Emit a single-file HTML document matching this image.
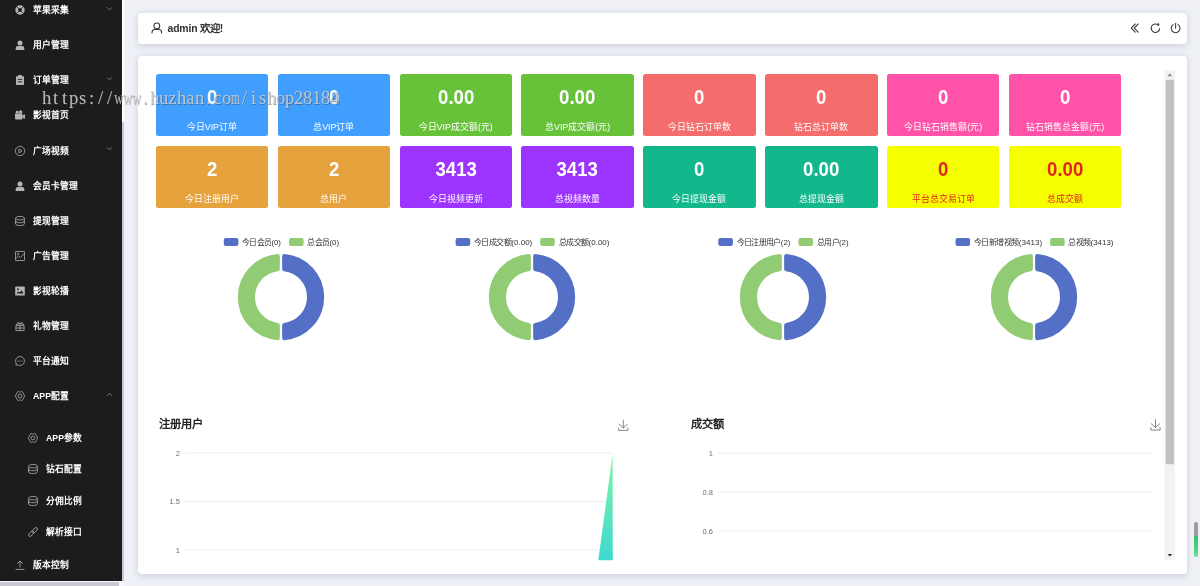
<!DOCTYPE html>
<html lang="zh-CN">
<head>
<meta charset="utf-8">
<title>admin</title>
<style>
*{box-sizing:border-box;margin:0;padding:0}
html,body{width:1200px;height:586px;overflow:hidden}
body{position:relative;background:#eff1f7;font-family:"Liberation Sans",sans-serif;color:#303133}
.abs{position:absolute}
#side,#head,#main,#wm{will-change:transform}
/* ---------- sidebar ---------- */
#side{position:absolute;left:0;top:0;width:122px;height:581px;background:#1c1c1c;overflow:hidden}
#sideTrack{position:absolute;left:122px;top:0;width:2.4px;height:122px;background:#fdfdfe}
#sideThumb{position:absolute;left:122px;top:122px;width:2.4px;height:459px;background:#c6c6d4}
#sideBottom{position:absolute;left:0;top:581px;width:124.4px;height:5px;background:#f7f7fa}
#sideBottom div{position:absolute;left:0;top:1.4px;width:118.5px;height:3.6px;background:#c9c9d4}
.mi{position:absolute;left:0;width:122px;height:20px;line-height:20px;font-size:8.75px;font-weight:bold;color:#fff;white-space:nowrap}
.mi .t{position:absolute;left:33px;top:0}
.mi.sub .t{left:46px}
.mi svg.ic{position:absolute;left:15px;top:5px;width:10px;height:10px;overflow:visible}
.mi.sub svg.ic{left:28px}
.mi svg.ch{position:absolute;left:105.5px;top:4.7px;width:7px;height:7px;overflow:visible}
/* ---------- header ---------- */
#head{position:absolute;left:138px;top:13px;width:1049px;height:30.7px;background:#fff;border-radius:4px;box-shadow:0 1.3px 7.5px rgba(60,66,110,.2)}
#head .hello{position:absolute;left:29.5px;top:7.5px;height:16px;line-height:16px;font-size:10.4px;font-weight:bold;color:#303133;white-space:nowrap;letter-spacing:-.15px}
/* ---------- main card ---------- */
#main{position:absolute;left:138px;top:56px;width:1049px;height:517.6px;background:#fff;border-radius:4px;box-shadow:0 1.3px 7.5px rgba(60,66,110,.2)}
.tile{position:absolute;width:112.4px;height:62px;border-radius:2.5px;color:#fff;text-align:center;overflow:hidden}
.tile b{position:absolute;left:0;width:100%;top:11px;height:24px;line-height:24px;font-size:20px;font-weight:bold;transform:scaleX(.93)}
.tile span{position:absolute;left:-20px;right:-20px;top:45.7px;height:14px;line-height:14px;font-size:8.9px;white-space:nowrap}
.c1{background:#409eff}.c2{background:#67c23a}.c3{background:#f56c6c}.c4{background:#ff52a8}
.c5{background:#e6a23c}.c6{background:#9d33ff}.c7{background:#12b78c}.c8{background:#f6ff00;color:#e0281c}
.ct{position:absolute;height:16px;line-height:16px;font-size:11.25px;font-weight:bold;color:#222;white-space:nowrap}
#wm{position:absolute;left:42px;top:87px;height:22px;line-height:22px;white-space:nowrap;font-family:"Liberation Serif",serif;font-size:18.6px;color:rgba(208,208,208,.86);text-shadow:.7px .7px 0 rgba(70,70,70,.5);z-index:9}
#wm i{display:inline-block;width:9px;text-align:center;font-style:normal}
#wm u{display:inline-block;text-decoration:none;margin:0 -3px}
#rbar{position:absolute;left:1194px;top:521.5px;width:4.2px;height:35.2px;border-radius:2.1px;background:#9b9ba1;overflow:hidden;z-index:9}
#rbar div{position:absolute;left:0;top:14.5px;width:100%;height:22px;background:linear-gradient(#35c267,#4fd67f 70%,#8fe6ad)}
</style>
</head>
<body>

<!-- ================= SIDEBAR ================= -->
<div id="side">
  <div class="mi" style="top:0.0px"><svg class="ic" viewBox="0 0 10 10"><circle cx="5" cy="5" r="4.7" fill="#b4b4b4"/><circle cx="5" cy="5" r="1.9" fill="#1c1c1c"/><path d="M1.7 1.7 L3.7 3.7 M8.3 1.7 L6.3 3.7 M1.7 8.3 L3.7 6.3 M8.3 8.3 L6.3 6.3" stroke="#1c1c1c" stroke-width="0.8"/></svg><span class="t">苹果采集</span><svg class="ch" viewBox="0 0 7 7"><path d="M1 2.3 L3.5 4.8 L6 2.3" fill="none" stroke="#8a8a8a" stroke-width="0.8"/></svg></div>
  <div class="mi" style="top:35.1px"><svg class="ic" viewBox="0 0 10 10"><circle cx="5" cy="2.9" r="2.5" fill="#b4b4b4"/><path d="M0.7 9.9 V8 Q0.7 6 2.8 6 H7.2 Q9.3 6 9.3 8 V9.9 Z" fill="#b4b4b4"/></svg><span class="t">用户管理</span></div>
  <div class="mi" style="top:70.3px"><svg class="ic" viewBox="0 0 10 10"><rect x="1" y="1.2" width="8" height="8.7" rx="0.7" fill="#b4b4b4"/><rect x="3.2" y="0" width="3.6" height="2.2" rx="0.5" fill="#b4b4b4"/><path d="M2.8 4.4 H7.2 M2.8 6.9 H7.2" stroke="#1c1c1c" stroke-width="0.9"/></svg><span class="t">订单管理</span><svg class="ch" viewBox="0 0 7 7"><path d="M1 2.3 L3.5 4.8 L6 2.3" fill="none" stroke="#8a8a8a" stroke-width="0.8"/></svg></div>
  <div class="mi" style="top:105.4px"><svg class="ic" viewBox="0 0 10 10"><rect x="0" y="3.6" width="7.6" height="5.8" rx="0.8" fill="#b4b4b4"/><path d="M7.6 5.6 L10 4.2 V8.9 L7.6 7.5 Z" fill="#b4b4b4"/><circle cx="2.2" cy="2.2" r="1.4" fill="#b4b4b4"/><circle cx="5.6" cy="1.9" r="1.7" fill="#b4b4b4"/></svg><span class="t">影视首页</span></div>
  <div class="mi" style="top:140.5px"><svg class="ic" viewBox="0 0 10 10"><circle cx="5" cy="5" r="4.7" fill="none" stroke="#b4b4b4" stroke-width="0.75"/><path d="M3.9 3 L7 5 L3.9 7 Z" fill="none" stroke="#b4b4b4" stroke-width="0.75" stroke-linejoin="round"/></svg><span class="t">广场视频</span><svg class="ch" viewBox="0 0 7 7"><path d="M1 2.3 L3.5 4.8 L6 2.3" fill="none" stroke="#8a8a8a" stroke-width="0.8"/></svg></div>
  <div class="mi" style="top:175.6px"><svg class="ic" viewBox="0 0 10 10"><circle cx="5" cy="2.9" r="2.5" fill="#b4b4b4"/><path d="M0.7 9.9 V8 Q0.7 6 2.8 6 H7.2 Q9.3 6 9.3 8 V9.9 Z" fill="#b4b4b4"/></svg><span class="t">会员卡管理</span></div>
  <div class="mi" style="top:210.8px"><svg class="ic" viewBox="0 0 10 10"><ellipse cx="5" cy="2.2" rx="4.4" ry="1.8" fill="none" stroke="#b4b4b4" stroke-width="0.75"/><path d="M0.6 2.2 V7.8 C0.6 10.2 9.4 10.2 9.4 7.8 V2.2 M0.6 5 C0.6 7.3 9.4 7.3 9.4 5 M0.6 7.6 C0.6 5 0.6 5 0.6 5" fill="none" stroke="#b4b4b4" stroke-width="0.75"/></svg><span class="t">提现管理</span></div>
  <div class="mi" style="top:245.9px"><svg class="ic" viewBox="0 0 10 10"><rect x="0.5" y="0.5" width="9" height="9" rx="0.5" fill="none" stroke="#b4b4b4" stroke-width="0.75"/><path d="M0.8 7.6 L3.6 4.9 L5.4 6.5 L9.2 2.8" fill="none" stroke="#b4b4b4" stroke-width="0.75"/><circle cx="3" cy="2.9" r="0.8" fill="none" stroke="#b4b4b4" stroke-width="0.6"/></svg><span class="t">广告管理</span></div>
  <div class="mi" style="top:281.0px"><svg class="ic" viewBox="0 0 10 10"><rect x="0.2" y="0.5" width="9.6" height="9" rx="0.6" fill="#b4b4b4"/><path d="M1.6 7.6 L3.6 5.3 L4.8 6.5 L6.6 4.2 L8.6 7.6 Z" fill="#1c1c1c"/><circle cx="3" cy="3.2" r="0.9" fill="#1c1c1c"/></svg><span class="t">影视轮播</span></div>
  <div class="mi" style="top:316.1px"><svg class="ic" viewBox="0 0 10 10"><path d="M0.9 4.6 H9.1 V9.6 H0.9 Z M0.9 7 H9.1 M5 4.6 V9.6" fill="none" stroke="#b4b4b4" stroke-width="0.8"/><path d="M1.6 4.4 V3 H8.4 V4.4 M5 3 C3.4 0.2 1.8 1.8 3.2 3 M5 3 C6.6 0.2 8.2 1.8 6.8 3" fill="none" stroke="#b4b4b4" stroke-width="0.8"/></svg><span class="t">礼物管理</span></div>
  <div class="mi" style="top:351.3px"><svg class="ic" viewBox="0 0 10 10"><path d="M5 0.5 A4.5 4.5 0 1 1 2.6 8.8 L0.9 9.3 L1.3 7.6 A4.5 4.5 0 0 1 5 0.5 Z" fill="none" stroke="#b4b4b4" stroke-width="0.75" stroke-linejoin="round"/><circle cx="3" cy="5" r="0.55" fill="#b4b4b4"/><circle cx="5" cy="5" r="0.55" fill="#b4b4b4"/><circle cx="7" cy="5" r="0.55" fill="#b4b4b4"/></svg><span class="t">平台通知</span></div>
  <div class="mi" style="top:386.0px"><svg class="ic" viewBox="0 0 10 10"><path d="M0.35 5 L2.55 0.85 Q2.8 0.5 3.3 0.5 H4 L4.5 1.2 H5.5 L6 0.5 H6.7 Q7.2 0.5 7.45 0.85 L9.65 5 L7.45 9.15 Q7.2 9.5 6.7 9.5 H6 L5.5 8.8 H4.5 L4 9.5 H3.3 Q2.8 9.5 2.55 9.15 Z" fill="none" stroke="#a8a8a8" stroke-width="0.8" stroke-linejoin="round"/><circle cx="5" cy="5" r="1.9" fill="none" stroke="#a8a8a8" stroke-width="0.8"/></svg><span class="t">APP配置</span><svg class="ch" viewBox="0 0 7 7"><path d="M1 4.8 L3.5 2.3 L6 4.8" fill="none" stroke="#8a8a8a" stroke-width="0.8"/></svg></div>
  <div class="mi sub" style="top:428.1px"><svg class="ic" viewBox="0 0 10 10"><path d="M0.35 5 L2.55 0.85 Q2.8 0.5 3.3 0.5 H4 L4.5 1.2 H5.5 L6 0.5 H6.7 Q7.2 0.5 7.45 0.85 L9.65 5 L7.45 9.15 Q7.2 9.5 6.7 9.5 H6 L5.5 8.8 H4.5 L4 9.5 H3.3 Q2.8 9.5 2.55 9.15 Z" fill="none" stroke="#a8a8a8" stroke-width="0.8" stroke-linejoin="round"/><circle cx="5" cy="5" r="1.9" fill="none" stroke="#a8a8a8" stroke-width="0.8"/></svg><span class="t">APP参数</span></div>
  <div class="mi sub" style="top:459.3px"><svg class="ic" viewBox="0 0 10 10"><ellipse cx="5" cy="2.2" rx="4.4" ry="1.8" fill="none" stroke="#b4b4b4" stroke-width="0.75"/><path d="M0.6 2.2 V7.8 C0.6 10.2 9.4 10.2 9.4 7.8 V2.2 M0.6 5 C0.6 7.3 9.4 7.3 9.4 5 M0.6 7.6 C0.6 5 0.6 5 0.6 5" fill="none" stroke="#b4b4b4" stroke-width="0.75"/></svg><span class="t">钻石配置</span></div>
  <div class="mi sub" style="top:490.6px"><svg class="ic" viewBox="0 0 10 10"><ellipse cx="5" cy="2.2" rx="4.4" ry="1.8" fill="none" stroke="#b4b4b4" stroke-width="0.75"/><path d="M0.6 2.2 V7.8 C0.6 10.2 9.4 10.2 9.4 7.8 V2.2 M0.6 5 C0.6 7.3 9.4 7.3 9.4 5 M0.6 7.6 C0.6 5 0.6 5 0.6 5" fill="none" stroke="#b4b4b4" stroke-width="0.75"/></svg><span class="t">分佣比例</span></div>
  <div class="mi sub" style="top:521.8px"><svg class="ic" viewBox="0 0 10 10"><g transform="rotate(-45 5 5)" fill="none" stroke="#b4b4b4" stroke-width="0.8"><rect x="-0.6" y="3.5" width="6.4" height="3" rx="1.5"/><rect x="4.2" y="3.5" width="6.4" height="3" rx="1.5"/></g></svg><span class="t">解析接口</span></div>
  <div class="mi" style="top:554.7px"><svg class="ic" viewBox="0 0 10 10"><path d="M5 7.4 V1 M2.3 3.7 L5 1 L7.7 3.7 M0.6 9.4 H9.4" fill="none" stroke="#b4b4b4" stroke-width="0.8"/></svg><span class="t">版本控制</span></div>
</div>
<div id="sideTrack"></div>
<div id="sideThumb"></div>
<div id="sideBottom"><div></div></div>

<!-- ================= HEADER ================= -->
<div id="head">
  <div class="hello">admin 欢迎!</div>
  <svg class="abs" style="left:0;top:0.5px" width="1049.5" height="30.5" viewBox="0 0 1049.5 30.5">
    <g fill="none" stroke="#3a3a3c" stroke-width="1.05" stroke-linecap="round" stroke-linejoin="round">
      <circle cx="18.8" cy="11.9" r="2.9"/>
      <path d="M14 18.9 V18.4 Q14 15.5 17 15.5 H20.6 Q23.6 15.5 23.6 18.4 V18.9"/>
      <path d="M997.2 10 L993.2 14.05 L997.2 18.1 M1000.2 10 L996.2 14.05 L1000.2 18.1" stroke-width="1.1"/>
      <path d="M1020.6 11.3 A4.25 4.25 0 1 0 1021.7 14.6"/>
      <path d="M1037.6 9.2 V14.2"/>
      <path d="M1040 10.6 A4.4 4.4 0 1 1 1035.2 10.6"/>
    </g>
    <circle cx="1020.3" cy="10.4" r="1.05" fill="#3a3a3c"/>
  </svg>
</div>

<!-- ================= MAIN ================= -->
<div id="main">
  <!-- row 1 -->
  <div class="tile c1" style="left:17.7px;top:18px"><b>0</b><span>今日VIP订单</span></div>
  <div class="tile c1" style="left:139.6px;top:18px"><b>0</b><span>总VIP订单</span></div>
  <div class="tile c2" style="left:261.5px;top:18px"><b>0.00</b><span>今日VIP成交额(元)</span></div>
  <div class="tile c2" style="left:383.4px;top:18px"><b>0.00</b><span>总VIP成交额(元)</span></div>
  <div class="tile c3" style="left:505.3px;top:18px"><b>0</b><span>今日钻石订单数</span></div>
  <div class="tile c3" style="left:627.2px;top:18px"><b>0</b><span>钻石总订单数</span></div>
  <div class="tile c4" style="left:749.1px;top:18px"><b>0</b><span>今日钻石销售额(元)</span></div>
  <div class="tile c4" style="left:871px;top:18px"><b>0</b><span>钻石销售总金额(元)</span></div>
  <!-- row 2 -->
  <div class="tile c5" style="left:17.7px;top:90.3px"><b>2</b><span>今日注册用户</span></div>
  <div class="tile c5" style="left:139.6px;top:90.3px"><b>2</b><span>总用户</span></div>
  <div class="tile c6" style="left:261.5px;top:90.3px"><b>3413</b><span>今日视频更新</span></div>
  <div class="tile c6" style="left:383.4px;top:90.3px"><b>3413</b><span>总视频数量</span></div>
  <div class="tile c7" style="left:505.3px;top:90.3px"><b>0</b><span>今日提现金额</span></div>
  <div class="tile c7" style="left:627.2px;top:90.3px"><b>0.00</b><span>总提现金额</span></div>
  <div class="tile c8" style="left:749.1px;top:90.3px"><b>0</b><span>平台总交易订单</span></div>
  <div class="tile c8" style="left:871px;top:90.3px"><b>0.00</b><span>总成交额</span></div>
  <svg class="abs" style="left:0;top:0" width="1050" height="517" viewBox="0 0 1050 517" font-family="Liberation Sans, sans-serif">
  <g><path d="M146.35 200.24 A41.00 41.00 0 0 1 146.35 281.96 L146.35 269.10 A28.20 28.20 0 0 0 146.35 213.10 Z" fill="#5470c6" stroke="#5470c6" stroke-width="4.4" stroke-linejoin="round"/><path d="M139.65 200.24 A41.00 41.00 0 0 0 139.65 281.96 L139.65 269.10 A28.20 28.20 0 0 1 139.65 213.10 Z" fill="#91cc75" stroke="#91cc75" stroke-width="4.4" stroke-linejoin="round"/></g>
  <g><rect x="85.8" y="182.0" width="14.6" height="8" rx="2" fill="#5470c6"/><text x="104.0" y="188.7" font-size="7.5" fill="#333" textLength="39.0" lengthAdjust="spacingAndGlyphs">今日会员(0)</text><rect x="151.0" y="182.0" width="14.6" height="8" rx="2" fill="#91cc75"/><text x="169.2" y="188.7" font-size="7.5" fill="#333" textLength="32.0" lengthAdjust="spacingAndGlyphs">总会员(0)</text></g>
  <g><path d="M397.35 200.24 A41.00 41.00 0 0 1 397.35 281.96 L397.35 269.10 A28.20 28.20 0 0 0 397.35 213.10 Z" fill="#5470c6" stroke="#5470c6" stroke-width="4.4" stroke-linejoin="round"/><path d="M390.65 200.24 A41.00 41.00 0 0 0 390.65 281.96 L390.65 269.10 A28.20 28.20 0 0 1 390.65 213.10 Z" fill="#91cc75" stroke="#91cc75" stroke-width="4.4" stroke-linejoin="round"/></g>
  <g><rect x="317.6" y="182.0" width="14.6" height="8" rx="2" fill="#5470c6"/><text x="335.8" y="188.7" font-size="7.5" fill="#333" textLength="58.5" lengthAdjust="spacingAndGlyphs">今日成交额(0.00)</text><rect x="402.2" y="182.0" width="14.6" height="8" rx="2" fill="#91cc75"/><text x="420.5" y="188.7" font-size="7.5" fill="#333" textLength="51.0" lengthAdjust="spacingAndGlyphs">总成交额(0.00)</text></g>
  <g><path d="M648.35 200.24 A41.00 41.00 0 0 1 648.35 281.96 L648.35 269.10 A28.20 28.20 0 0 0 648.35 213.10 Z" fill="#5470c6" stroke="#5470c6" stroke-width="4.4" stroke-linejoin="round"/><path d="M641.65 200.24 A41.00 41.00 0 0 0 641.65 281.96 L641.65 269.10 A28.20 28.20 0 0 1 641.65 213.10 Z" fill="#91cc75" stroke="#91cc75" stroke-width="4.4" stroke-linejoin="round"/></g>
  <g><rect x="580.3" y="182.0" width="14.6" height="8" rx="2" fill="#5470c6"/><text x="598.5" y="188.7" font-size="7.5" fill="#333" textLength="54.0" lengthAdjust="spacingAndGlyphs">今日注册用户(2)</text><rect x="660.5" y="182.0" width="14.6" height="8" rx="2" fill="#91cc75"/><text x="678.7" y="188.7" font-size="7.5" fill="#333" textLength="32.0" lengthAdjust="spacingAndGlyphs">总用户(2)</text></g>
  <g><path d="M899.35 200.24 A41.00 41.00 0 0 1 899.35 281.96 L899.35 269.10 A28.20 28.20 0 0 0 899.35 213.10 Z" fill="#5470c6" stroke="#5470c6" stroke-width="4.4" stroke-linejoin="round"/><path d="M892.65 200.24 A41.00 41.00 0 0 0 892.65 281.96 L892.65 269.10 A28.20 28.20 0 0 1 892.65 213.10 Z" fill="#91cc75" stroke="#91cc75" stroke-width="4.4" stroke-linejoin="round"/></g>
  <g><rect x="817.5" y="182.0" width="14.6" height="8" rx="2" fill="#5470c6"/><text x="835.7" y="188.7" font-size="7.5" fill="#333" textLength="68.4" lengthAdjust="spacingAndGlyphs">今日新增视频(3413)</text><rect x="912.1" y="182.0" width="14.6" height="8" rx="2" fill="#91cc75"/><text x="930.3" y="188.7" font-size="7.5" fill="#333" textLength="45.2" lengthAdjust="spacingAndGlyphs">总视频(3413)</text></g>
  <path d="M46.8 397.0 H474.6" stroke="#e3e8f0" stroke-width="0.8"/>
  <path d="M46.8 445.4 H474.6" stroke="#e3e8f0" stroke-width="0.8"/>
  <path d="M46.8 493.8 H474.6" stroke="#e3e8f0" stroke-width="0.8"/>
  <text x="42.0" y="399.7" font-size="7.5" fill="#6e7079" text-anchor="end">2</text>
  <text x="42.0" y="448.1" font-size="7.5" fill="#6e7079" text-anchor="end">1.5</text>
  <text x="42.0" y="496.5" font-size="7.5" fill="#6e7079" text-anchor="end">1</text>
  <defs><linearGradient id="ga" x1="0" y1="0" x2="0" y2="1"><stop offset="0" stop-color="#84f2a6"/><stop offset="1" stop-color="#3fd9cf"/></linearGradient></defs>
  <path d="M474.6 398.0 L474.8 504.3 L460.3 504.3 Z" fill="url(#ga)"/>
  <path d="M580.4 397.2 H1014.8" stroke="#e3e8f0" stroke-width="0.8"/>
  <path d="M580.4 436.0 H1014.8" stroke="#e3e8f0" stroke-width="0.8"/>
  <path d="M580.4 474.8 H1014.8" stroke="#e3e8f0" stroke-width="0.8"/>
  <text x="575.0" y="399.9" font-size="7.5" fill="#6e7079" text-anchor="end">1</text>
  <text x="575.0" y="438.7" font-size="7.5" fill="#6e7079" text-anchor="end">0.8</text>
  <text x="575.0" y="477.5" font-size="7.5" fill="#6e7079" text-anchor="end">0.6</text>
  <g fill="none" stroke="#707070" stroke-width="0.85" stroke-linecap="round" stroke-linejoin="round"><path d="M485.3 364.2 V371.8 M481.1 368.2 L485.3 371.9 L489.5 368.2 M480.7 372.0 V374.4 H489.9 V372.0"/></g>
  <g fill="none" stroke="#707070" stroke-width="0.85" stroke-linecap="round" stroke-linejoin="round"><path d="M1017.5 363.8 V371.4 M1013.3 367.8 L1017.5 371.5 L1021.7 367.8 M1012.9 371.6 V374.0 H1022.1 V371.6"/></g>
  <rect x="1026.4" y="14.5" width="10.6" height="489.5" fill="#f3f3f4"/>
  <rect x="1027.7" y="23.8" width="8.2" height="384.4" fill="#c1c1c1"/>
  <path d="M1029.4 20.2 L1031.8 17.4 L1034.2 20.2 Z" fill="#8a8a8a"/>
  <path d="M1029.6 498.0 L1031.9 500.6 L1034.2 498.0 Z" fill="#303030"/>
  </svg>
  <div class="ct" style="left:20.6px;top:360px">注册用户</div>
  <div class="ct" style="left:552.8px;top:360px">成交额</div>
</div>

<!-- watermark overlay -->
<div id="wm"><i>h</i><i>t</i><i>t</i><i>p</i><i>s</i><i>:</i><i>/</i><i>/</i><i><u style="transform:scaleX(0.66)">w</u></i><i><u style="transform:scaleX(0.66)">w</u></i><i><u style="transform:scaleX(0.66)">w</u></i><i>.</i><i>h</i><i>u</i><i>z</i><i>h</i><i>a</i><i>n</i><i>.</i><i>c</i><i>o</i><i><u style="transform:scaleX(0.6)">m</u></i><i>/</i><i>i</i><i>s</i><i>h</i><i>o</i><i>p</i><i>2</i><i>8</i><i>1</i><i>8</i><i>4</i></div>
<div id="rbar"><div></div></div>
</body>
</html>
